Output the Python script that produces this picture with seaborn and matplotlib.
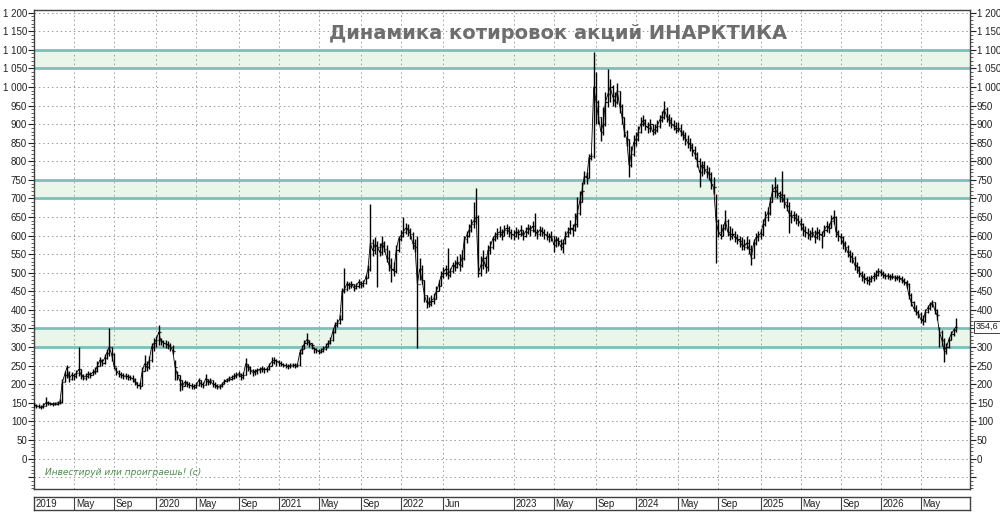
import numpy as np
import pandas as pd
import matplotlib
matplotlib.use("Agg")
import matplotlib.pyplot as plt
import matplotlib.transforms as mtrans
from matplotlib.ticker import MultipleLocator, FuncFormatter
import seaborn as sns

# ---------------- data (weekly bars) ----------------
close_2019 = [145,142,140,138,142,150,150,148,147,148,150,152,205,225,245,215,225,222,230,240,225,218,222,228,226,232,235,250,265,258,270,285,300,280,250,235,228,225,222,222,220,218,215,205,198,195,235,255,245,265,300,310]
high_2019 = [150,148,146,144,150,166,155,153,152,153,156,160,215,235,251,235,232,230,238,300,240,228,230,235,234,240,245,262,272,268,280,295,351,300,285,245,238,232,230,230,228,226,225,218,205,205,245,278,262,275,310,325]
low_2019 = [138,136,135,133,136,142,145,143,142,143,145,147,150,205,218,205,212,212,218,222,215,210,212,218,218,224,228,232,248,248,255,268,275,262,240,225,220,218,215,214,212,210,205,198,190,188,195,235,235,240,260,290]

close_2020 = [320,340,315,312,308,305,300,290,245,225,210,195,205,200,198,195,193,198,210,200,198,215,205,210,200,198,192,195,200,208,212,215,218,222,225,228,220,225,255,245,238,232,235,238,240,242,240,240,250,260,265,262]
high_2020 = [330,359,325,320,318,315,312,305,265,235,225,210,212,208,205,202,200,205,218,210,206,227,215,216,210,205,200,200,206,214,218,222,226,230,233,235,230,232,270,255,248,240,240,244,246,248,246,246,258,272,272,268]
low_2020 = [300,305,305,300,298,295,290,280,210,210,182,185,195,192,190,188,186,190,195,192,190,198,198,200,192,190,186,186,192,200,205,208,212,215,218,220,212,215,225,235,228,222,225,228,230,232,230,232,238,248,255,250]

close_2021 = [258,255,252,250,248,250,252,250,252,285,295,310,320,310,305,295,292,288,290,295,300,310,318,340,360,365,375,450,455,470,465,470,460,465,475,468,472,485,510,580,560,575,570,555,580,565,540,520,510,505,560,590]
high_2021 = [265,262,258,256,255,256,258,256,258,295,305,320,337,318,312,300,298,295,297,302,310,320,328,350,368,375,385,460,512,478,475,478,470,472,482,478,480,495,520,686,590,595,585,580,600,585,575,560,540,530,575,600]
low_2021 = [250,248,245,244,242,244,245,244,245,250,282,295,305,300,295,285,283,282,284,288,292,300,308,315,338,355,362,372,445,450,455,458,450,455,460,460,462,470,485,505,545,550,461,545,548,555,530,505,475,490,500,555]

close_2022 = [600,610,620,615,605,580,570,470,510,480,440,420,415,425,430,450,465,490,500,510,495,505,520,515,530,520,540,590,600,615,630,640,650,500,520,540,515,560,570,590,600,605,610,600,615,620,610,605]
high_2022 = [615,650,635,630,620,610,590,600,540,520,480,440,435,440,445,465,480,505,515,520,566,512,530,535,545,550,560,600,612,630,645,690,727,655,545,560,545,575,585,600,610,620,625,618,628,632,625,618]
low_2022 = [585,595,605,600,590,565,555,297,480,470,420,405,408,410,415,430,450,465,485,490,482,488,500,505,512,505,515,535,580,595,610,620,630,488,490,510,500,505,550,565,585,592,595,588,598,605,595,592]

close_2023 = [600,610,605,615,600,610,620,615,625,610,605,615,610,605,600,595,600,575,590,585,570,580,600,610,620,615,630,660,690,720,760,755,810,815,1000,960,920,880,900,960,980,1000,975,960,990,950,920,880,860,790,820,850]
high_2023 = [615,622,618,628,615,622,632,628,640,662,618,625,622,618,612,608,612,600,598,595,590,592,612,622,641,630,660,703,720,745,775,770,820,822,1093,1040,965,920,945,985,1047,1020,1005,985,1010,990,955,920,885,860,840,870]
low_2023 = [588,595,592,600,588,595,605,600,610,600,592,600,598,592,588,582,585,555,570,572,560,552,578,595,605,600,612,622,655,690,740,740,755,803,810,900,900,855,870,895,945,960,950,945,955,930,900,865,840,757,785,815]

close_2024 = [860,880,900,910,895,890,900,880,885,895,910,920,940,920,910,900,895,885,890,880,870,860,850,845,830,820,800,770,790,780,770,765,740,730,640,610,600,620,640,610,600,605,595,590,585,575,570,580,565,540,580,595]
high_2024 = [880,895,918,925,915,905,915,900,900,910,925,935,963,945,928,918,910,905,905,900,885,878,870,862,850,840,825,810,802,800,790,785,770,757,713,645,630,632,668,645,625,620,612,605,600,595,590,600,590,575,590,606]
low_2024 = [840,855,875,895,885,875,880,870,872,880,890,905,915,905,895,890,885,875,878,868,858,845,835,828,815,805,785,732,760,765,755,750,725,712,525,596,590,598,615,598,588,592,582,578,570,562,560,565,550,520,540,575]

close_2025 = [600,605,630,650,660,690,720,730,715,705,710,690,680,660,650,655,645,640,630,615,610,605,600,610,595,610,605,600,615,625,620,640,650,610,600,595,580,570,555,545,540,520,515,500,490,485,480,478,485,490,495,505]
high_2025 = [612,618,645,665,676,705,740,757,738,720,775,712,700,690,668,665,660,655,648,635,625,620,615,622,615,622,618,612,628,638,635,655,668,652,615,606,598,585,575,562,555,545,530,518,505,498,492,490,495,502,506,512]
low_2025 = [585,592,600,625,640,655,690,705,700,690,690,675,665,606,635,638,630,625,615,600,595,592,587,595,580,590,588,566,598,610,606,620,630,595,585,578,565,555,541,530,525,506,500,488,478,472,470,468,474,478,482,490]

close_2026 = [500,495,490,492,488,490,485,488,485,480,475,470,440,420,405,395,390,375,370,395,405,415,420,400,385,340,320,290,300,320,335,345,354.6]
high_2026 = [510,505,500,500,497,498,495,495,494,490,485,480,472,445,425,412,400,395,385,402,412,422,426,420,402,353,345,325,312,328,342,352,377]
low_2026 = [492,487,482,484,480,482,477,480,476,472,466,460,430,410,396,385,378,364,360,368,392,400,408,390,372,300,302,259,282,298,318,330,340]

date_labels = ["2019", "May", "Sep", "2020", "May", "Sep", "2021", "May", "Sep", "2022", "Jun",
               "2023", "May", "Sep", "2024", "May", "Sep", "2025", "May", "Sep", "2026", "May"]
label_weeks = [0, 17, 34, 52, 69, 87, 104, 121, 139, 156, 174,
               204, 221, 239, 256, 274, 291, 309, 326, 343, 360, 377]
band_low = [300, 700, 1050]
band_high = [350, 750, 1100]
last_price = 354.6
title = "Динамика котировок акций ИНАРКТИКА"
motto = "Инвестируй или проиграешь! (с)"

close = np.array(close_2019 + close_2020 + close_2021 + close_2022 + close_2023 + close_2024 + close_2025 + close_2026, dtype=float)
high = np.array(high_2019 + high_2020 + high_2021 + high_2022 + high_2023 + high_2024 + high_2025 + high_2026, dtype=float)
low = np.array(low_2019 + low_2020 + low_2021 + low_2022 + low_2023 + low_2024 + low_2025 + low_2026, dtype=float)
weeks = np.arange(len(close))
opens = np.concatenate([[close[0]], close[:-1]])
df = pd.DataFrame({"week": weeks, "close": close, "open": opens, "high": high, "low": low})

# ---------------- style ----------------
sns.set_style("white")
plt.rcParams["font.family"] = ["Liberation Sans", "DejaVu Sans"]

fig = plt.figure(figsize=(10, 5.13), dpi=100)
fig.patch.set_facecolor("white")
ax = fig.add_axes([0.034, 24 / 513, 0.936, 479 / 513])
ax.set_xlim(0, 398)
ax.set_ylim(-82, 1207)

grid_kw = dict(color="#9a9a9a", lw=0.7, ls=(0, (1.5, 3)), zorder=1.5)
for v in range(-50, 1201, 50):
    ax.axhline(v, **grid_kw)
for w in label_weeks[1:]:
    ax.axvline(w, **grid_kw)

for lo, hi in zip(band_low, band_high):
    ax.axhspan(lo, hi, color="#eaf6ea", zorder=1, lw=0)
    ax.axhline(lo, color="#80bdbd", lw=2.0, zorder=2)
    ax.axhline(hi, color="#80bdbd", lw=2.0, zorder=2)

# OHLC bars
ax.vlines(df["week"], df["low"], df["high"], color="black", lw=1.0, zorder=3)
ax.hlines(df["open"], df["week"] - 0.45, df["week"], color="black", lw=0.9, zorder=3)
ax.hlines(df["close"], df["week"], df["week"] + 0.45, color="black", lw=0.9, zorder=3)
sns.lineplot(data=df, x="week", y="close", estimator=None, color="black", lw=0.6, ax=ax, zorder=3)

ax.set_xlabel("")
ax.set_ylabel("")
ax.set_xticks([])
ax.yaxis.set_major_locator(MultipleLocator(50))
ax.yaxis.set_minor_locator(MultipleLocator(10))
ax.yaxis.set_major_formatter(FuncFormatter(lambda v, p: "" if v < 0 else f"{int(round(v)):,}".replace(",", " ")))
ax.tick_params(axis="y", which="major", length=4, width=0.8, direction="out", labelsize=7,
               left=True, right=True, labelleft=True, labelright=True, pad=1, colors="#222222")
ax.tick_params(axis="y", which="minor", length=2, width=0.6, direction="out", left=True, right=True, colors="#444444")
for s in ax.spines.values():
    s.set_color("#404040")
    s.set_linewidth(1.0)
    s.set_visible(True)

# hide right-side label hidden by the price box
for t, loc in zip(ax.yaxis.get_major_ticks(), ax.get_yticks()):
    if abs(loc - 350) < 1e-6:
        t.label2.set_visible(False)

# last price box
trans = mtrans.blended_transform_factory(ax.transAxes, ax.transData)
ax.text(1.006, last_price, f"{last_price:.1f}".replace(".", ","), transform=trans, ha="left", va="center",
        fontsize=6.5, color="#222222", zorder=6, clip_on=False,
        bbox=dict(boxstyle="square,pad=0.15", fc="white", ec="#404040", lw=0.7))

# motto
ax.text(4.5, -38, motto, ha="left", va="center", fontsize=6.5, style="italic", color="#4a8a4a", zorder=4,
        family=["DejaVu Sans"])

# title
fig.text(0.558, 0.935, title, ha="center", va="center", fontsize=14, fontweight="bold", color="#6e6e6e",
         family=["DejaVu Sans"])

# date strip
ax2 = fig.add_axes([0.034, 3 / 513, 0.936, 13 / 513])
ax2.set_xlim(0, 398)
ax2.set_ylim(0, 1)
ax2.set_xticks([])
ax2.set_yticks([])
for s in ax2.spines.values():
    s.set_color("#404040")
    s.set_linewidth(1.0)
for w, lab in zip(label_weeks, date_labels):
    if w > 0:
        ax2.axvline(w, color="#404040", lw=0.8)
    ax2.text(w + 0.8, 0.45, lab, ha="left", va="center", fontsize=7, color="#222222")

fig.savefig("out.png", dpi=100)
